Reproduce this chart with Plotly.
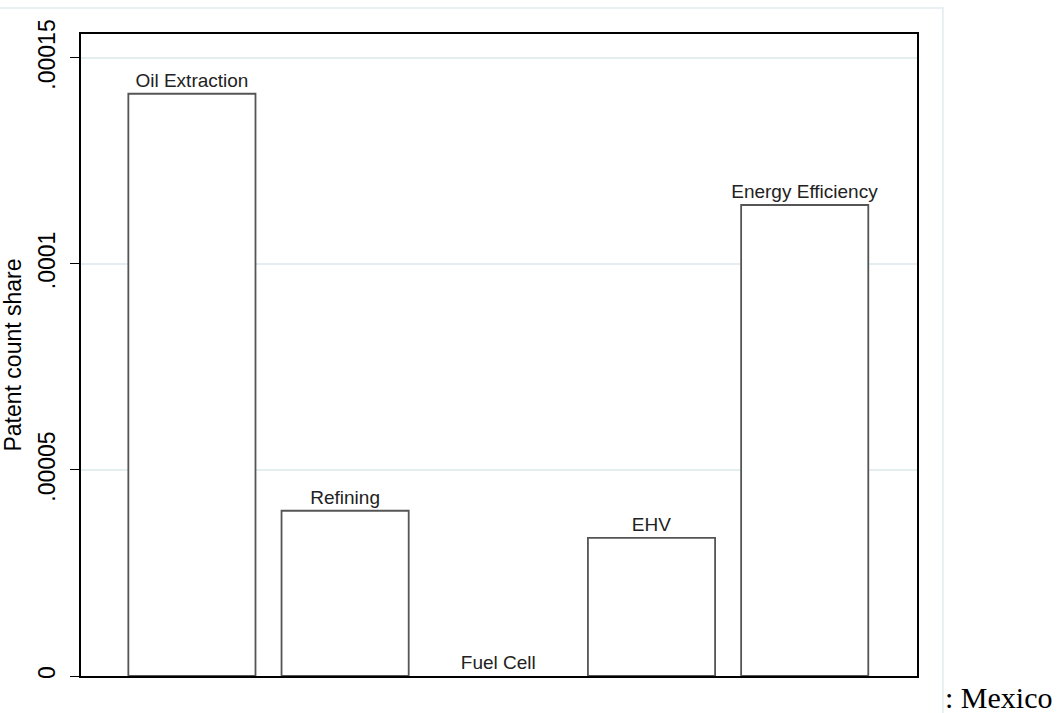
import plotly.graph_objects as go

categories = ["Oil Extraction", "Refining", "Fuel Cell", "EHV", "Energy Efficiency"]
shares = [0.0001413, 0.0000401, 0.0, 0.0000335, 0.0001143]
tick_values = [0, 0.00005, 0.0001, 0.00015]
tick_labels = ["0", ".00005", ".0001", ".00015"]
y_title = "Patent count share"
country_note = ": Mexico"

W, H = 1060, 713
L, R, T, B = 78, 143, 34, 37
pw = W - L - R
ph = H - T - B

outline_widths = [1.8 if v > 0 else 0 for v in shares]

fig = go.Figure()
fig.add_trace(go.Bar(
    x=list(range(len(categories))),
    y=shares,
    width=0.83,
    text=categories,
    textposition="outside",
    constraintext="none",
    textfont=dict(family="Liberation Sans, Arial", size=19, color="#222222"),
    cliponaxis=False,
    marker=dict(color="white", line=dict(color="#555555", width=outline_widths)),
    hoverinfo="skip",
))

fig.update_layout(
    width=W, height=H,
    margin=dict(l=L, r=R, t=T, b=B),
    paper_bgcolor="white",
    plot_bgcolor="white",
    showlegend=False,
    font=dict(family="Liberation Sans, Arial", color="black"),
    xaxis=dict(
        range=[-0.724, 4.733],
        showticklabels=False,
        ticks="",
        showgrid=False,
        zeroline=False,
        showline=True, mirror=True, linecolor="black", linewidth=1.5,
    ),
    yaxis=dict(
        range=[0, 0.0001558],
        tickvals=tick_values,
        ticktext=tick_labels,
        tickangle=-90,
        ticks="outside", ticklen=9, tickcolor="black", tickwidth=1.2,
        tickfont=dict(size=23, color="black"),
        ticklabelstandoff=6,
        showgrid=True, gridcolor="#e4eef1", gridwidth=2,
        zeroline=False,
        showline=True, mirror=True, linecolor="black", linewidth=1.5,
        title=dict(text=y_title, font=dict(size=23, color="black"), standoff=6),
    ),
    shapes=[dict(
        type="rect", xref="paper", yref="paper",
        x0=(-20 - L) / pw, x1=(943 - L) / pw,
        y0=(H - B - 730) / ph, y1=(H - B - 8) / ph,
        line=dict(color="#e3ebee", width=1.5),
        fillcolor="rgba(0,0,0,0)", layer="below",
    )],
    annotations=[dict(
        text=country_note, xref="paper", yref="paper",
        x=(943 - L) / pw, y=(H - B - 697) / ph,
        xanchor="left", yanchor="middle", showarrow=False,
        font=dict(family="Liberation Serif, Times New Roman", size=30, color="black"),
    )],
)

fig.write_html("out.html")
